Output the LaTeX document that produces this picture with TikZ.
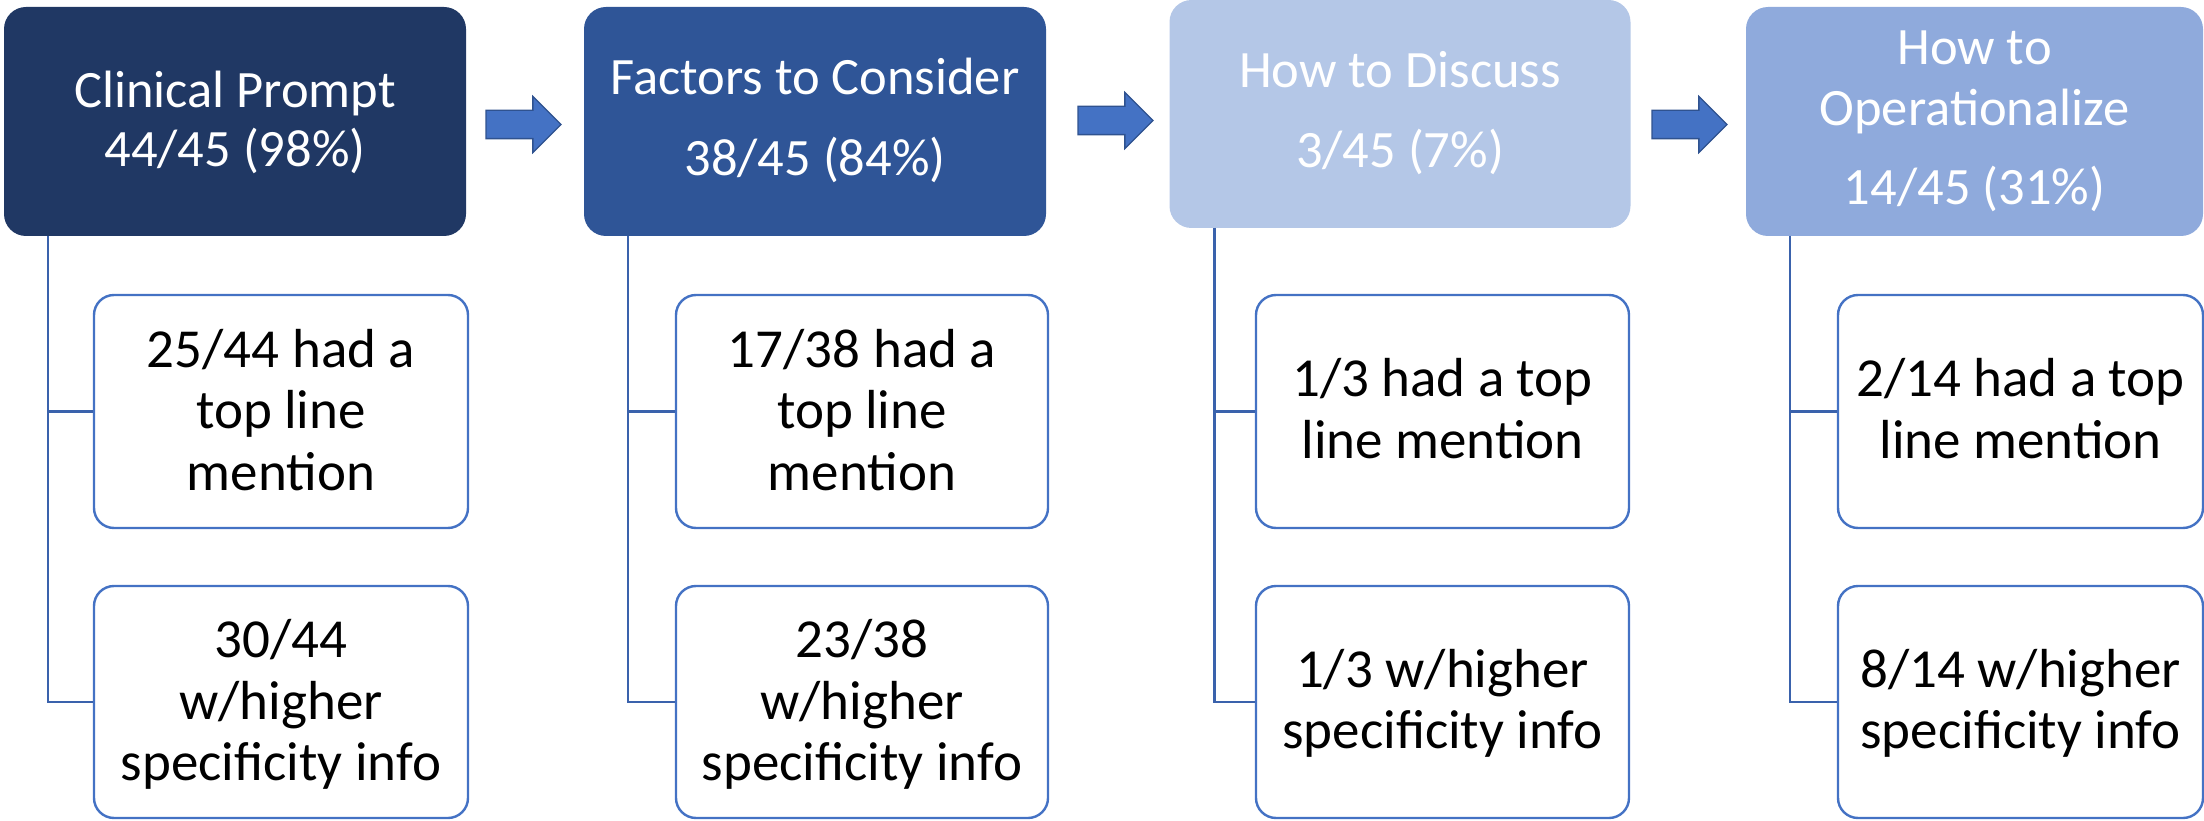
\documentclass[tikz,border=0pt]{standalone}
\usepackage{fontspec}
\setmainfont{Carlito}
\usetikzlibrary{shapes.arrows,calc}
\definecolor{navy}{HTML}{203864}
\definecolor{midblue}{HTML}{2F5597}
\definecolor{paleblue}{HTML}{B4C7E7}
\definecolor{lightblue}{HTML}{8FAADC}
\definecolor{accent}{HTML}{4472C4}
\definecolor{arrowedge}{HTML}{2F528F}
\definecolor{linecol}{HTML}{3A62AC}
\newcommand{\mlines}[1]{\begin{tabular}[t]{@{}c@{}}#1\end{tabular}}
\tikzset{
  hdr/.style={rectangle, rounded corners=22pt, inner sep=0pt, outer sep=0pt,
    text=white, font=\fontsize{52.5}{59}\selectfont, text height=0pt},
  sub/.style={rectangle, draw=accent, line width=2.4pt, fill=white, rounded corners=20pt,
    inner sep=0pt, text=black, font=\fontsize{55}{61.5}\selectfont, text height=0pt},
  sub3/.style={sub, text depth=89pt},
  sub2/.style={sub, text depth=30pt},
  blockarrow/.style={single arrow, single arrow head extend=14pt, fill=accent,
    draw=arrowedge, line width=1.3pt, inner xsep=0pt, inner ysep=13.5pt, outer sep=0pt,
    text height=0pt, text depth=0pt, minimum height=75pt, minimum width=55pt, anchor=tail},
  conn/.style={draw=linecol, line width=2.5pt}
}
\begin{document}
\begin{tikzpicture}[x=1pt,y=-1pt]
\useasboundingbox (0,0) rectangle (2204,821);
% header boxes
\node[hdr, fill=navy, minimum width=462pt, minimum height=229pt, text depth=27pt] (b1) at (235,121.5)
  {\mlines{Clinical Prompt\\44/45 (98\%)}};
\node[hdr, fill=midblue, minimum width=462pt, minimum height=229pt, text depth=53pt] (b2) at (815,121.5)
  {\mlines{Factors to Consider\\[22pt]38/45 (84\%)}};
\node[hdr, fill=paleblue, minimum width=461pt, minimum height=228pt, text depth=52pt] (b3) at (1400,114)
  {\mlines{How to Discuss\\[21pt]3/45 (7\%)}};
\node[hdr, fill=lightblue, minimum width=457pt, minimum height=229pt, text depth=113pt,
  font=\fontsize{52.5}{61}\selectfont] (b4) at (1974.5,121.5)
  {\mlines{How to\\Operationalize\\[18pt]14/45 (31\%)}};
% block arrows
\node[blockarrow] (a1) at (486,124.5) {};
\node[blockarrow] (a2) at (1078,120.5) {};
\node[blockarrow] (a3) at (1652,124.5) {};
% children
\node[sub3, minimum width=374pt, minimum height=233pt] (c11) at (281,411.5) {\mlines{25/44 had a\\top line\\mention}};
\node[sub3, minimum width=374pt, minimum height=232pt] (c12) at (281,702) {\mlines{30/44\\w/higher\\specificity info}};
\node[sub3, minimum width=372pt, minimum height=233pt] (c21) at (862,411.5) {\mlines{17/38 had a\\top line\\mention}};
\node[sub3, minimum width=372pt, minimum height=232pt] (c22) at (862,702) {\mlines{23/38\\w/higher\\specificity info}};
\node[sub2, minimum width=373pt, minimum height=233pt] (c31) at (1442.5,411.5) {\mlines{1/3 had a top\\line mention}};
\node[sub2, minimum width=373pt, minimum height=232pt] (c32) at (1442.5,702) {\mlines{1/3 w/higher\\specificity info}};
\node[sub2, minimum width=365pt, minimum height=233pt] (c41) at (2020.5,411.5) {\mlines{2/14 had a top\\line mention}};
\node[sub2, minimum width=365pt, minimum height=232pt] (c42) at (2020.5,702) {\mlines{8/14 w/higher\\specificity info}};
% connectors
\coordinate (s1) at ($(b1.south west)+(44,0)$);
\coordinate (s2) at ($(b2.south west)+(44,0)$);
\coordinate (s3) at ($(b3.south west)+(45,0)$);
\coordinate (s4) at ($(b4.south west)+(44,0)$);
\draw[conn] (s1) |- (c11.west);
\draw[conn] (s1) |- (c12.west);
\draw[conn] (s2) |- (c21.west);
\draw[conn] (s2) |- (c22.west);
\draw[conn] (s3) |- (c31.west);
\draw[conn] (s3) |- (c32.west);
\draw[conn] (s4) |- (c41.west);
\draw[conn] (s4) |- (c42.west);
\end{tikzpicture}
\end{document}
